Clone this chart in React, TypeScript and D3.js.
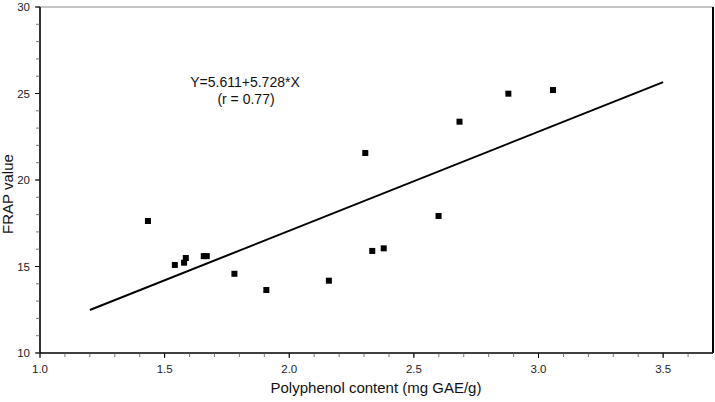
import React from 'react';
import * as d3 from 'd3';

// polyphenol content (mg GAE/g) vs FRAP value
const polyphenol = [1.433, 1.541, 1.578, 1.585, 1.657, 1.669, 1.78, 1.908, 2.159, 2.305, 2.333, 2.379, 2.599, 2.683, 2.879, 3.058];
const frap = [17.63, 15.09, 15.22, 15.49, 15.6, 15.6, 14.58, 13.64, 14.18, 21.56, 15.9, 16.05, 17.92, 23.37, 24.99, 25.2];

const fitIntercept = 5.611;
const fitSlope = 5.728;
const fitRange = [1.2, 3.5];

const xMajor = [1.0, 1.5, 2.0, 2.5, 3.0, 3.5];
const yMajor = [10, 15, 20, 25, 30];

const W = 715;
const H = 402;
const margin = { top: 7, right: 2, bottom: 49, left: 40 };
const font = "'Liberation Sans', Arial, sans-serif";

const App: React.FC = () => {
  const x = d3.scaleLinear().domain([1.0, 3.7]).range([margin.left, W - margin.right]);
  const y = d3.scaleLinear().domain([10, 30]).range([H - margin.bottom, margin.top]);

  const xMinor = d3.range(10, 37).map((d) => d / 10);
  const yMinor = d3.range(10, 31);

  const fitLine = d3.line<number>()
    .x((d) => x(d))
    .y((d) => y(fitIntercept + fitSlope * d));

  const x0 = x.range()[0];
  const x1 = x.range()[1];
  const y0 = y.range()[0];
  const y1 = y.range()[1];

  return (
    <svg width={W} height={H} style={{ position: 'absolute', left: 0, top: 0 }} fontFamily={font}>
      <rect width={W} height={H} fill="#fff" />

      {/* frame */}
      <line x1={x0} x2={x1} y1={y1} y2={y1} stroke="#888" strokeWidth={1} />
      <line x1={x1} x2={x1} y1={y1} y2={y0} stroke="#000" strokeWidth={2} />
      <line x1={x0} x2={x1} y1={y0} y2={y0} stroke="#000" strokeWidth={1.6} />
      <line x1={x0} x2={x0} y1={y1} y2={y0} stroke="#000" strokeWidth={1.6} />

      {/* x ticks */}
      {xMinor.map((t) => (
        <line key={'xm' + t} x1={x(t)} x2={x(t)} y1={y0} y2={y0 + 4} stroke="#555" strokeWidth={0.8} />
      ))}
      {xMajor.map((t) => (
        <g key={'x' + t}>
          <line x1={x(t)} x2={x(t)} y1={y0} y2={y0 + 5} stroke="#000" strokeWidth={1} />
          <text x={x(t)} y={y0 + 20} textAnchor="middle" fontSize={11.5} fill="#222">
            {d3.format('.1f')(t)}
          </text>
        </g>
      ))}

      {/* y ticks */}
      {yMinor.map((t) => (
        <line key={'ym' + t} x1={x0 - 4} x2={x0} y1={y(t)} y2={y(t)} stroke="#555" strokeWidth={0.8} />
      ))}
      {yMajor.map((t) => (
        <g key={'y' + t}>
          <line x1={x0 - 5} x2={x0} y1={y(t)} y2={y(t)} stroke="#000" strokeWidth={1} />
          <text x={x0 - 10} y={y(t) + 4} textAnchor="end" fontSize={11.5} fill="#222">
            {t}
          </text>
        </g>
      ))}

      {/* axis titles */}
      <text x={376} y={393} textAnchor="middle" fontSize={15} fill="#111">
        Polyphenol content (mg GAE/g)
      </text>
      <text transform="translate(13,194) rotate(-90)" textAnchor="middle" fontSize={15} fill="#111">
        FRAP value
      </text>

      {/* regression */}
      <path d={fitLine(fitRange) ?? ''} fill="none" stroke="#000" strokeWidth={2} />
      <text x={245} y={87} textAnchor="middle" fontSize={14} fill="#111">
        Y=5.611+5.728*X
      </text>
      <text x={246} y={104} textAnchor="middle" fontSize={14} fill="#111">
        (r = 0.77)
      </text>

      {/* points */}
      {polyphenol.map((v, i) => (
        <rect key={i} x={x(v) - 3} y={y(frap[i]) - 3} width={6} height={6} fill="#000" />
      ))}
    </svg>
  );
};

export default App;
